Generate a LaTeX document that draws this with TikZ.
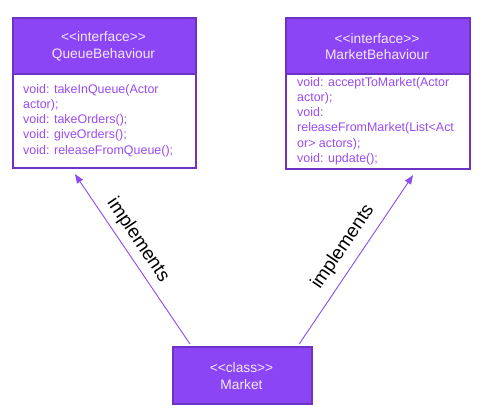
\documentclass[tikz,border=0pt]{standalone}
\usepackage{fontspec}
\setmainfont{Liberation Sans}[Ligatures=NoCommon]
\usetikzlibrary{arrows.meta,calc}
\definecolor{umlfill}{HTML}{8B45F4}
\definecolor{umlborder}{HTML}{6E33C4}
\definecolor{umlbody}{HTML}{9A4CF0}
\definecolor{umlhead}{HTML}{F3E8FF}
\definecolor{umlarrow}{HTML}{8B4CF0}
\newcommand{\stereo}[1]{{<}{<}#1{>}{>}}
\tikzset{
  boxouter/.style={draw=umlborder, line width=2.2bp, fill=white, inner sep=0pt, anchor=north west},
  boxhead/.style={draw=umlborder, line width=2.2bp, fill=umlfill, inner sep=0pt, anchor=north west},
  headtext/.style={text=umlhead, font=\fontsize{13.8}{16.7}\selectfont, align=center, inner sep=0pt},
  bodytext/.style={text=umlbody, font=\fontsize{12.5}{15.3}\selectfont, align=left, inner sep=0pt, anchor=north west},
  implarrow/.style={draw=umlarrow, line width=0.9bp, -{Triangle[length=9bp,width=7bp]}},
  impltext/.style={font=\fontsize{19}{22}\selectfont, text=black, inner sep=0pt}
}
\begin{document}
\begin{tikzpicture}[x=1bp,y=-1bp]
\useasboundingbox (0,0) rectangle (486,416);
% QueueBehaviour
\node[boxouter, minimum width=183bp, minimum height=150bp] (qb) at (12,17) {};
\node[boxhead, minimum width=183bp, minimum height=56bp] (qbh) at (12,17) {};
\node[headtext] (qbt) at (103.5,46.5) {\stereo{interface}\\QueueBehaviour};
\node[bodytext] (qbb) at (23,84) {void: takeInQueue(Actor\\actor);\\void: takeOrders();\\void: giveOrders();\\void: releaseFromQueue();};
% MarketBehaviour
\node[boxouter, minimum width=184bp, minimum height=151bp] (mb) at (285,17) {};
\node[boxhead, minimum width=184bp, minimum height=56bp] (mbh) at (285,17) {};
\node[headtext] (mbt) at (377,46.5) {\stereo{interface}\\MarketBehaviour};
\node[bodytext] (mbb) at (297,77) {void: acceptToMarket(Actor\\actor);\\void:\\releaseFromMarket(List<Act\\or> actors);\\void: update();};
% Market
\node[boxhead, minimum width=139bp, minimum height=57bp] (mk) at (172,346) {};
\node[headtext] (mkt) at (241.5,376) {\stereo{class}\\Market};
% connectors
\draw[implarrow] ($(mk.north west)+(18,-2)$) -- ($(qb.south west)+(63,5)$);
\draw[implarrow] ($(mk.north east)+(-14,-2)$) -- ($(mb.south west)+(128,5)$);
\node[impltext, rotate=-56] (l1) at (138,240) {implements};
\node[impltext, rotate=55.7] (l2) at (343,247) {implements};
\end{tikzpicture}
\end{document}
